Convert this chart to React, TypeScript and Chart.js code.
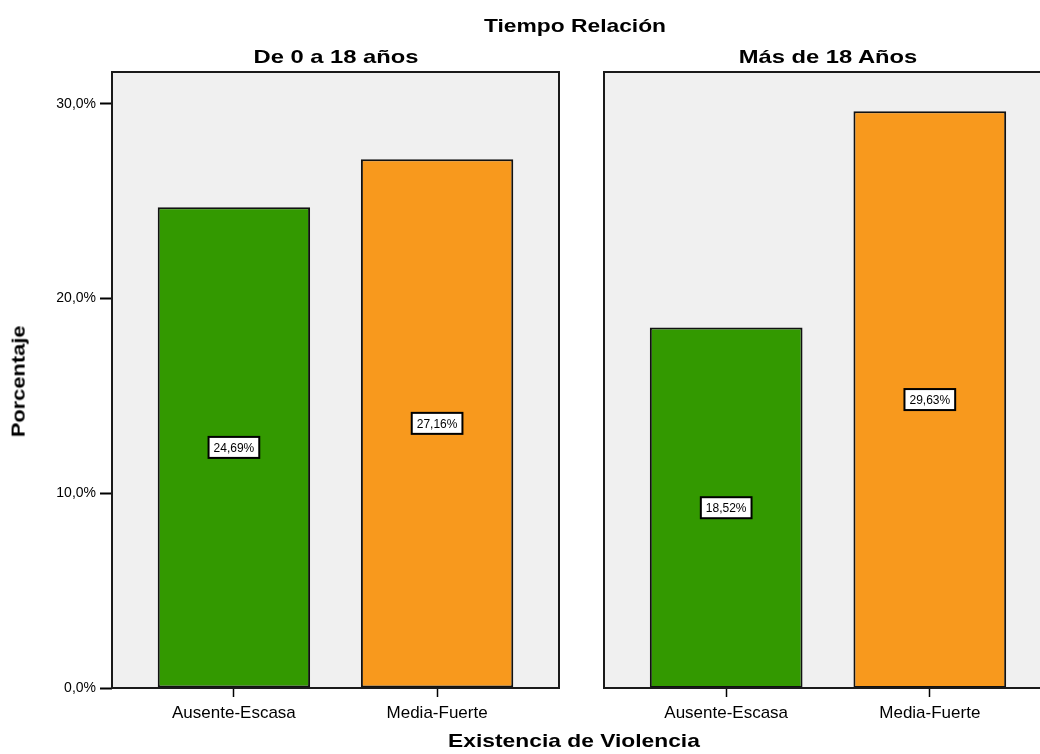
import React, { useEffect, useRef } from "react";
import { Chart, registerables } from "chart.js";

Chart.register(...registerables);

const categories = ["Ausente-Escasa", "Media-Fuerte"];
const panelTitles = ["De 0 a 18 años", "Más de 18 Años"];
const panel1Values = [24.69, 27.16];
const panel2Values = [18.52, 29.63];
const barColors = ["#339900", "#f8991d"];
const yTicks = [0, 10, 20, 30];
const yMax = 31.64;

const FONT = 'Arial, "Liberation Sans", sans-serif';

const framePlugin = {
  id: "frame",
  beforeDatasetsDraw(chart: any) {
    const { ctx, chartArea: a } = chart;
    ctx.save();
    ctx.fillStyle = "#f0f0f0";
    ctx.fillRect(a.left, a.top, a.right - a.left, a.bottom - a.top);
    ctx.restore();
  },
  afterDatasetsDraw(chart: any) {
    const { ctx, chartArea: a } = chart;
    ctx.save();
    ctx.strokeStyle = "#1a1a1a";
    ctx.lineWidth = 2;
    ctx.strokeRect(a.left, a.top, a.right - a.left, a.bottom - a.top);
    ctx.restore();
  },
};

const labelPlugin = {
  id: "barLabels",
  afterDatasetsDraw(chart: any) {
    const { ctx } = chart;
    const meta = chart.getDatasetMeta(0);
    const data = chart.data.datasets[0].data as any[];
    ctx.save();
    ctx.font = `12px ${FONT}`;
    ctx.textAlign = "center";
    ctx.textBaseline = "middle";
    meta.data.forEach((bar: any, i: number) => {
      const v = data[i].y as number;
      const txt = v.toFixed(2).replace(".", ",") + "%";
      const cx = bar.x;
      const cy = (bar.y + bar.base) / 2;
      const w = ctx.measureText(txt).width + 10;
      const h = 21;
      ctx.fillStyle = "#ffffff";
      ctx.fillRect(cx - w / 2, cy - h / 2, w, h);
      ctx.strokeStyle = "#000000";
      ctx.lineWidth = 2;
      ctx.strokeRect(cx - w / 2, cy - h / 2, w, h);
      ctx.fillStyle = "#000000";
      ctx.fillText(txt, cx, cy + 1);
    });
    ctx.restore();
  },
};

function makeConfig(values: number[], showY: boolean): any {
  return {
    type: "bar",
    data: {
      datasets: [
        {
          data: values.map((v, i) => ({ x: i, y: v })),
          backgroundColor: barColors,
          borderColor: "#111111",
          borderWidth: 2,
          borderSkipped: false,
          barPercentage: 0.75,
          categoryPercentage: 1,
        },
      ],
    },
    options: {
      responsive: false,
      animation: false,
      devicePixelRatio: 1,
      layout: { padding: { top: 72, right: 21, left: showY ? 0 : 24, bottom: 0 } },
      plugins: { legend: { display: false }, tooltip: { enabled: false }, title: { display: false } },
      scales: {
        x: {
          type: "linear",
          min: -0.6,
          max: 1.6,
          offset: false,
          afterFit: (s: any) => {
            s.height = 66;
          },
          afterBuildTicks: (s: any) => {
            s.ticks = categories.map((_, i) => ({ value: i }));
          },
          ticks: {
            autoSkip: false,
            maxRotation: 0,
            padding: 6,
            color: "#000",
            font: { family: FONT, size: 17 },
            callback: (v: any) => categories[Math.round(Number(v))],
          },
          grid: {
            offset: false,
            drawOnChartArea: false,
            drawTicks: true,
            tickLength: 9,
            tickColor: "#000",
            tickWidth: 1.5,
            color: "#000",
          },
          border: { display: false },
        },
        y: {
          display: showY,
          min: 0,
          max: yMax,
          afterFit: (s: any) => {
            s.width = showY ? 112 : 0;
          },
          afterBuildTicks: (s: any) => {
            s.ticks = yTicks.map((v) => ({ value: v }));
          },
          ticks: {
            padding: 4,
            color: "#000",
            font: { family: FONT, size: 14 },
            callback: (v: any) => Number(v).toFixed(1).replace(".", ",") + "%",
          },
          grid: {
            drawOnChartArea: false,
            drawTicks: true,
            tickLength: 12,
            tickColor: "#000",
            tickWidth: 2,
            color: "#000",
          },
          border: { display: false },
          title: { display: false },
        },
      },
    },
    plugins: [framePlugin, labelPlugin],
  };
}

function Panel({ values, showY, left, width }: { values: number[]; showY: boolean; left: number; width: number }) {
  const ref = useRef<HTMLCanvasElement | null>(null);
  useEffect(() => {
    if (!ref.current) return;
    const chart = new Chart(ref.current, makeConfig(values, showY));
    return () => chart.destroy();
  }, []);
  return (
    <canvas
      ref={ref}
      width={width}
      height={754}
      style={{ position: "absolute", left, top: 0, width, height: 754 }}
    />
  );
}

const textStyle = (cx: number, cy: number, size: number, sx: number, rotate = false): React.CSSProperties => ({
  position: "absolute",
  left: cx - 300,
  top: cy - size * 0.6,
  width: 600,
  textAlign: "center",
  fontFamily: FONT,
  fontWeight: "bold",
  fontSize: size,
  lineHeight: `${size * 1.2}px`,
  color: "#000",
  whiteSpace: "nowrap",
  transform: rotate ? `rotate(-90deg) scaleX(${sx})` : `scaleX(${sx})`,
  transformOrigin: "50% 50%",
});

export default function App() {
  return (
    <div
      style={{
        position: "absolute",
        left: 0,
        top: 0,
        width: 1040,
        height: 754,
        overflow: "hidden",
        background: "#fff",
      }}
    >
      <Panel values={panel1Values} showY={true} left={0} width={580} />
      <Panel values={panel2Values} showY={false} left={580} width={493} />
      <div style={textStyle(575, 26, 19, 1.2)}>Tiempo Relación</div>
      <div style={textStyle(336, 57, 19, 1.25)}>{panelTitles[0]}</div>
      <div style={textStyle(828, 57, 19, 1.25)}>{panelTitles[1]}</div>
      <div style={textStyle(574, 741, 19, 1.2)}>Existencia de Violencia</div>
      <div style={textStyle(19, 381, 19, 1.15, true)}>Porcentaje</div>
    </div>
  );
}
